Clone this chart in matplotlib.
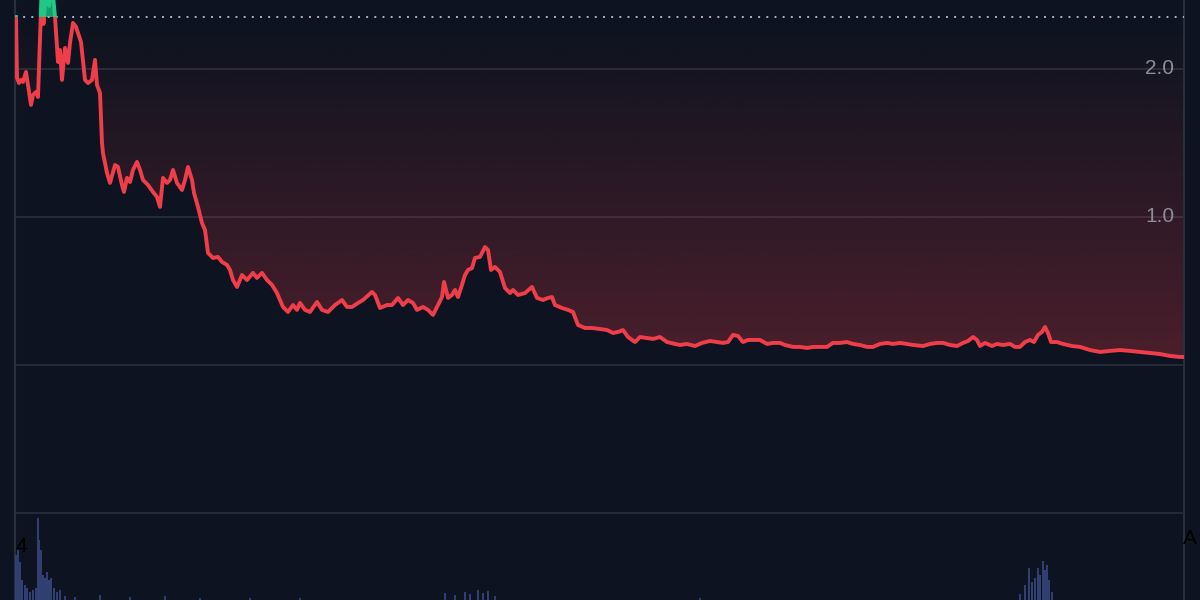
import numpy as np
import matplotlib.pyplot as plt
from matplotlib.path import Path
from matplotlib.patches import Rectangle

# time index (hours since start) and price
t = [0, 1, 3, 5, 7, 10, 12, 15, 17, 20, 22, 24, 25.5, 27.5, 30, 32, 33, 35, 37, 39,
     42, 44, 46, 49, 52, 54, 57, 60, 62, 65, 69, 72, 76, 79, 81, 84, 86, 87, 91, 94,
     99, 102, 106, 108, 111, 114, 117, 121, 124, 127, 132, 137, 141, 144, 147, 151, 154, 157, 161, 166,
     169, 172, 176, 178, 182, 186, 189, 192, 197, 202, 206, 211, 214, 217, 221, 226, 231, 237, 241, 246,
     251, 256, 261, 267, 272, 277, 281, 284, 289, 294, 301, 306, 312, 319, 326, 331, 336, 342, 347, 356,
     359, 364, 371, 376, 382, 387, 392, 397, 401, 407, 412, 417, 422, 426, 428, 432, 436, 439, 442, 446,
     449, 452, 456, 459, 464, 469, 472, 475, 479, 484, 489, 494, 497, 502, 509, 516, 521, 527, 532, 536,
     539, 546, 552, 557, 562, 569, 576, 584, 591, 597, 602, 607, 612, 619, 624, 631, 637, 644, 651, 659,
     664, 671, 679, 686, 694, 701, 707, 712, 717, 722, 727, 732, 737, 744, 751, 757, 764, 769, 777, 784,
     791, 797, 804, 811, 817, 824, 831, 837, 844, 851, 857, 864, 871, 877, 884, 891, 897, 907, 914, 921,
     927, 934, 941, 947, 952, 957, 961, 964, 969, 976, 981, 987, 994, 999, 1004, 1009, 1014, 1018, 1022, 1026,
     1029, 1032, 1035, 1041, 1047, 1056, 1064, 1074, 1084, 1094, 1104, 1114, 1124, 1134, 1144, 1154, 1164, 1167]

price = [2.351, 1.939, 1.905, 1.926, 1.912, 1.980, 1.892, 1.757, 1.824, 1.845, 1.811, 2.196, 2.500, 2.304, 2.520, 2.480, 2.426, 2.534, 2.500, 2.351,
         2.047, 2.128, 1.926, 2.142, 2.041, 2.176, 2.311, 2.284, 2.243, 2.182, 1.926, 1.905, 1.926, 2.061, 1.892, 1.838, 1.500, 1.432, 1.297, 1.230,
         1.351, 1.338, 1.216, 1.169, 1.264, 1.236, 1.318, 1.372, 1.318, 1.250, 1.216, 1.169, 1.135, 1.068, 1.264, 1.230, 1.250, 1.318, 1.230, 1.182,
         1.250, 1.338, 1.250, 1.162, 1.068, 0.959, 0.912, 0.757, 0.723, 0.730, 0.696, 0.676, 0.642, 0.574, 0.527, 0.608, 0.574, 0.622, 0.588, 0.622,
         0.574, 0.541, 0.486, 0.392, 0.358, 0.405, 0.372, 0.419, 0.372, 0.358, 0.426, 0.372, 0.358, 0.405, 0.439, 0.392, 0.392, 0.419, 0.439, 0.493,
         0.473, 0.385, 0.405, 0.405, 0.453, 0.405, 0.439, 0.419, 0.372, 0.392, 0.372, 0.338, 0.405, 0.459, 0.561, 0.453, 0.473, 0.507, 0.459, 0.541,
         0.608, 0.642, 0.655, 0.723, 0.730, 0.797, 0.777, 0.642, 0.662, 0.628, 0.520, 0.486, 0.507, 0.473, 0.486, 0.527, 0.453, 0.439, 0.453, 0.459,
         0.405, 0.385, 0.372, 0.358, 0.270, 0.250, 0.250, 0.243, 0.236, 0.216, 0.223, 0.236, 0.189, 0.155, 0.189, 0.182, 0.176, 0.189, 0.155, 0.142,
         0.135, 0.142, 0.128, 0.149, 0.162, 0.155, 0.149, 0.155, 0.203, 0.196, 0.155, 0.169, 0.169, 0.169, 0.142, 0.149, 0.149, 0.135, 0.122, 0.122,
         0.115, 0.122, 0.122, 0.122, 0.149, 0.149, 0.155, 0.142, 0.135, 0.122, 0.122, 0.142, 0.149, 0.142, 0.149, 0.142, 0.135, 0.128, 0.142, 0.149,
         0.149, 0.135, 0.128, 0.149, 0.162, 0.189, 0.169, 0.128, 0.149, 0.128, 0.142, 0.135, 0.142, 0.122, 0.122, 0.155, 0.169, 0.155, 0.203, 0.223,
         0.257, 0.216, 0.155, 0.155, 0.142, 0.128, 0.122, 0.101, 0.088, 0.095, 0.101, 0.095, 0.088, 0.081, 0.074, 0.061, 0.054, 0.054]

base = 2.351

vol_t = [0, 2, 4, 6, 9, 11, 14, 17, 20, 22, 23, 25, 27, 29, 31, 33, 35, 38, 41, 44,
         49, 59, 84, 114, 149, 184, 234, 284, 429, 439, 449, 454, 462, 467, 472, 479, 684,
         1004, 1009, 1013, 1016, 1019, 1022, 1024, 1027, 1029, 1031, 1033, 1036]
volume = [45, 50, 38, 20, 15, 12, 8, 10, 12, 82, 60, 50, 25, 22, 28, 20, 22, 12, 8, 10,
          4, 3, 5, 3, 4, 2, 2, 2, 7, 5, 8, 6, 10, 7, 9, 4, 2,
          6, 15, 32, 18, 22, 32, 25, 39, 30, 35, 20, 8]

bg = '#0d1320'
grid_c = '#2a2f3c'
red = '#ef3e4a'
green = '#1fc884'

t = np.array(t, dtype=float)
price = np.array(price)

fig = plt.figure(figsize=(12, 6), dpi=100, facecolor=bg)
ax = fig.add_axes([15 / 1200, 0, 1169 / 1200, 1])
ax.set_facecolor(bg)
xmin, xmax = -1, 1168
ymin, ymax = -1.588, 2.466

for lvl in [2.0, 1.0, 0.0, -1.0]:
    ax.axhline(lvl, color=grid_c, lw=1.2, zorder=1)

# red gradient between the line and the baseline
poly = ax.fill_between(t, price, base, where=price <= base, interpolate=True,
                       facecolor='none', edgecolor='none')
path = Path.make_compound_path(*poly.get_paths())
grad = np.zeros((256, 1, 4))
grad[:, 0, 0] = 239 / 255
grad[:, 0, 1] = 62 / 255
grad[:, 0, 2] = 74 / 255
yy = np.linspace(0, base, 256)
grad[:, 0, 3] = np.clip(0.28 * (base - yy) / base, 0, 1)
im = ax.imshow(grad, extent=[xmin, xmax, 0, base], origin='lower', aspect='auto', zorder=2)
im.set_clip_path(path, ax.transData)

ax.fill_between(t, price, base, where=price >= base, interpolate=True,
                color=green, alpha=0.75, lw=0, zorder=2)

ax.axhline(base, color='#b0b4be', lw=1.4, ls=(0, (1, 3.2)), zorder=3)

red_line, = ax.plot(t, price, color=red, lw=2.8, zorder=4, solid_joinstyle='round')
red_line.set_clip_path(Rectangle((xmin, ymin), xmax - xmin, base - ymin, transform=ax.transData))
green_line, = ax.plot(t, price, color=green, lw=2.8, zorder=4, solid_joinstyle='round')
green_line.set_clip_path(Rectangle((xmin, base), xmax - xmin, 1.0, transform=ax.transData))

ax.set_xlim(xmin, xmax)
ax.set_ylim(ymin, ymax)
ax.set_xticks([])
ax.set_yticks([])
for s in ['top', 'bottom']:
    ax.spines[s].set_visible(False)
for s in ['left', 'right']:
    ax.spines[s].set_color(grid_c)
    ax.spines[s].set_linewidth(1.5)

for lvl, lab in [(2.0, '2.0'), (1.0, '1.0')]:
    ax.text(0.9915, lvl, lab, transform=ax.get_yaxis_transform(), ha='right', va='center',
            color='#8b8e99', fontsize=15, family='Liberation Sans', zorder=5)

# volume pane
ax2 = ax.twinx()
ax2.bar(vol_t, volume, width=1.6, color='#36437a', alpha=0.9, lw=0)
ax2.set_ylim(0, 600)
ax2.set_xlim(xmin, xmax)
ax2.axis('off')

fig.text(16 / 1200, 1 - 546 / 600, '4', color='black', fontsize=15, va='center',
         family='Liberation Sans')
fig.text(1183 / 1200, 1 - 538 / 600, 'A', color='black', fontsize=15, va='center',
         family='Liberation Sans')

fig.savefig('out.png', dpi=100, facecolor=bg)
